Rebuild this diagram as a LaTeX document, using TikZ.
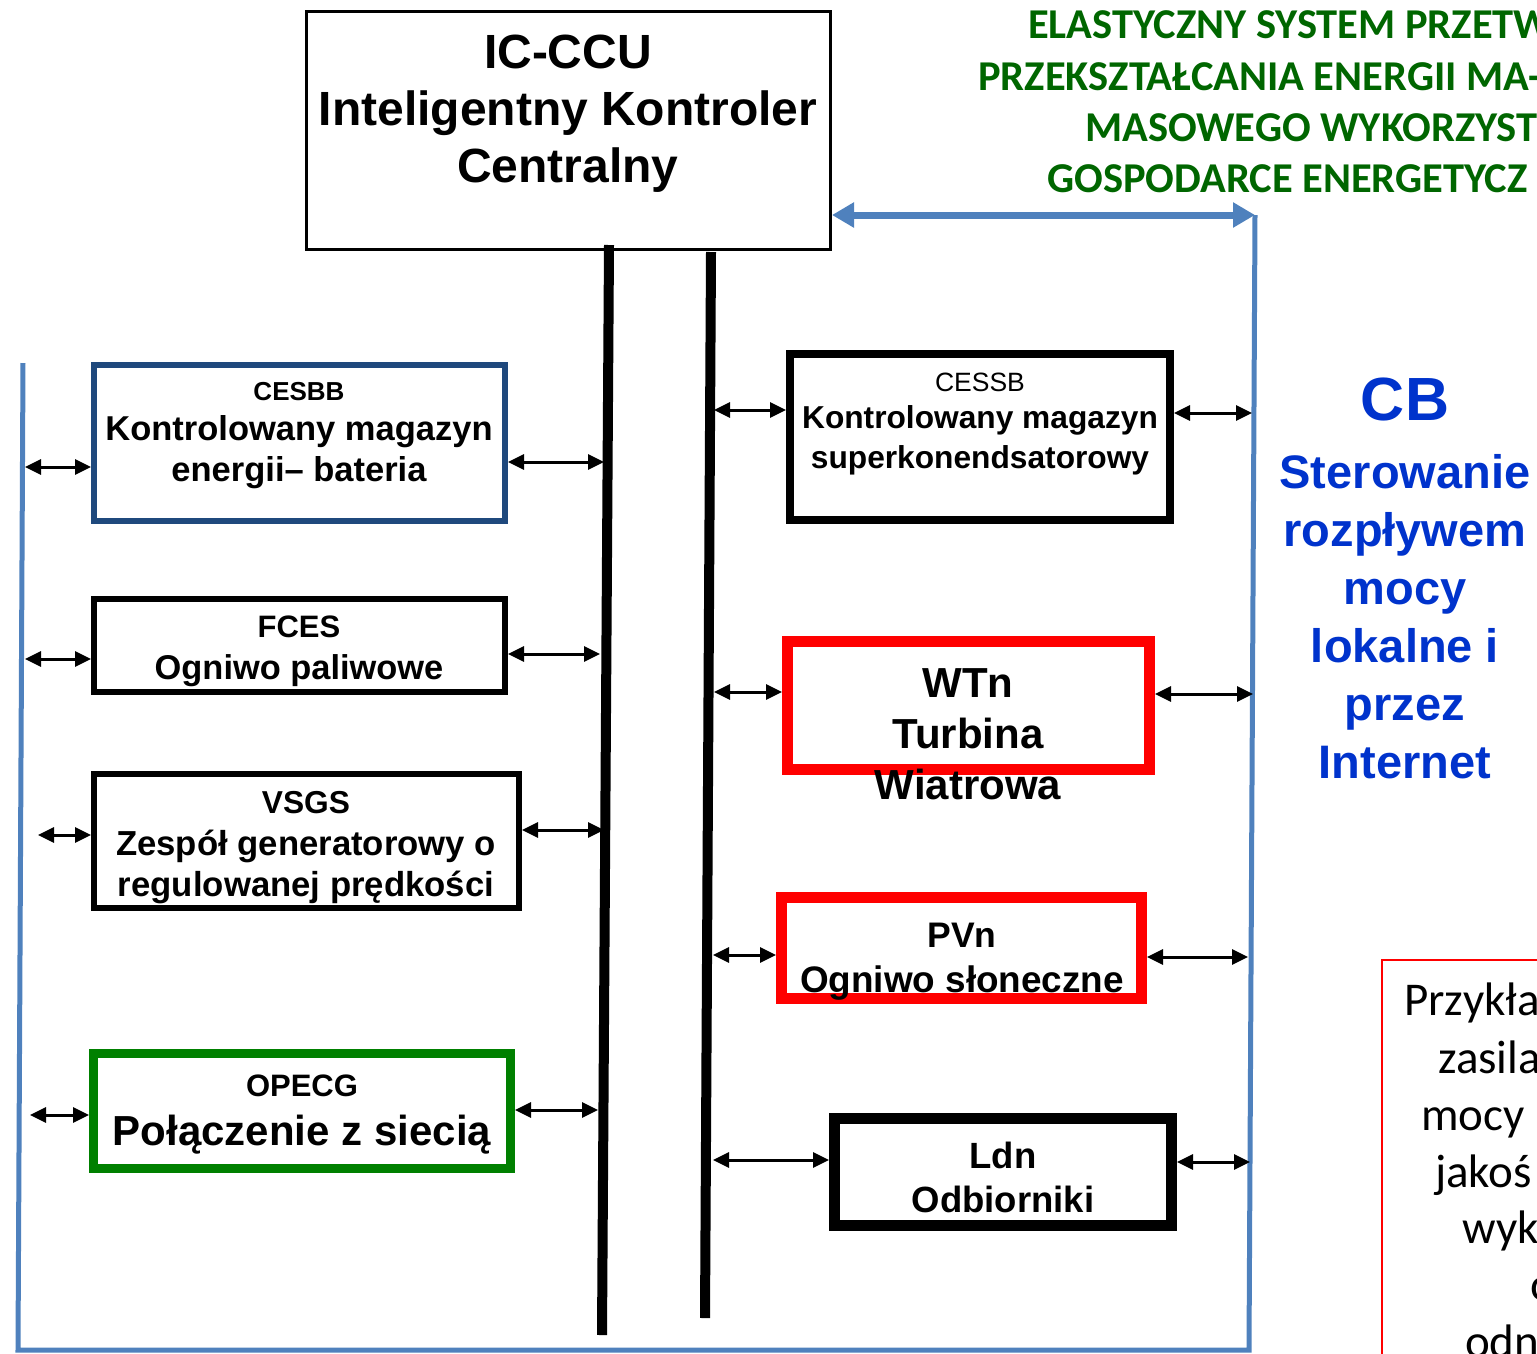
\documentclass[tikz,border=0pt]{standalone}
\usepackage{fontspec}
\setmainfont{Liberation Sans}
\newfontfamily\calibrifont{Carlito}
\usetikzlibrary{arrows.meta,positioning}
\definecolor{frameblue}{RGB}{79,129,189}
\definecolor{batblue}{RGB}{31,73,125}
\definecolor{gridgreen}{RGB}{0,128,0}
\definecolor{titlegreen}{RGB}{0,102,0}
\definecolor{cbblue}{RGB}{0,51,204}
\newcommand\fsz[2]{\fontsize{#1}{#2}\selectfont}
\tikzset{
    blk/.style={draw=#1, fill=white, inner sep=0pt},
    blk/.default=black,
    lbl/.style={align=center, inner sep=0pt},
    dbl/.style={{Triangle[length=16pt,width=15pt]}-{Triangle[length=16pt,width=15pt]}, line width=3pt},
    bus/.style={line width=10pt},
    frm/.style={draw=frameblue, line width=5pt},
    bluearr/.style={{Triangle[length=22pt,width=24pt]}-{Triangle[length=22pt,width=24pt]}, draw=frameblue, line width=7pt},
  }

\begin{document}
\begin{tikzpicture}[x=1pt,y=-1pt]
    \useasboundingbox (0,0) rectangle (1537,1353);

    %% ramka i szyny
    \coordinate (frTL) at (23,363);
    \coordinate (frBL) at (18,1350);
    \coordinate (frBR) at (1249,1350);
    \coordinate (frTR) at (1255,215);
    \coordinate (busLa) at (609,245);
    \coordinate (busLb) at (602,1335);
    \coordinate (busRa) at (711,252);
    \coordinate (busRb) at (705,1318);
    \draw[frm] (frTR) -- (frBR) -- (frBL) -- (frTL);

    %% sterownik centralny
    \node[blk, line width=3pt, minimum width=524pt, minimum height=238pt] (ccu) at (568.5,130.5) {};
    \node[lbl, font=\bfseries\fsz{48}{57}] (ccut) at (568,114) {IC-CCU\\Inteligentny Kontroler\\Centralny};
    \draw[bus] (busLa) -- (busLb);
    \draw[bus] (busRa) -- (busRb);
    \draw[bluearr] ([shift={(0,84.5)}]ccu.east) -- (frTR);

    %% lewa strona
    \node[blk=batblue, line width=6pt, minimum width=411pt, minimum height=156pt] (cesbb) at (299.5,443) {};
    \node[lbl, font=\bfseries\fsz{34.5}{40.5}] (cesbbt) at (299,435.5) {{\fsz{26}{30}CESBB}\\Kontrolowany magazyn\\energii– bateria};

    \node[blk, line width=6pt, minimum width=411pt, minimum height=93pt] (fces) at (299.5,645.5) {};
    \node[lbl, font=\bfseries\fsz{34.4}{42}] (fcest) at (299,651.5) {{\fsz{31}{34}FCES}\\Ogniwo paliwowe};

    \node[blk, line width=6pt, minimum width=425pt, minimum height=134pt] (vsgs) at (306.5,841) {};
    \node[lbl, font=\bfseries\fsz{34.7}{41.5}] (vsgst) at (306,848) {{\fsz{31.7}{35}VSGS}\\Zespół generatorowy o\\regulowanej prędkości};

    \node[blk=gridgreen, line width=9pt, minimum width=417pt, minimum height=115pt] (opecg) at (302,1111) {};
    \node[lbl, font=\bfseries\fsz{42}{49}] (opecgt) at (302,1115) {{\fsz{31}{34}OPECG}\\Połączenie z siecią};

    %% prawa strona
    \node[blk, line width=8pt, minimum width=380pt, minimum height=166pt] (cessb) at (980,437) {};
    \node[lbl, font=\bfseries\fsz{31.7}{40}] (cessbt) at (980,424) {{\mdseries\fsz{26.5}{30}CESSB}\\[-3.5pt]Kontrolowany magazyn\\superkonendsatorowy};

    \node[blk=red, line width=11pt, minimum width=362pt, minimum height=128pt] (wtn) at (968.5,705.5) {};
    \node[lbl, font=\bfseries\fsz{42}{51}] (wtnt) at (968,734) {WTn\\Turbina\\Wiatrowa};

    \node[blk=red, line width=11pt, minimum width=360pt, minimum height=101pt] (pvn) at (961.5,948) {};
    \node[lbl, font=\bfseries\fsz{36.9}{45}] (pvnt) at (962,961.5) {{\fsz{35.5}{40}PVn}\\Ogniwo słoneczne};

    \node[blk, line width=11pt, minimum width=337pt, minimum height=107pt] (ldn) at (1003,1172) {};
    \node[lbl, font=\bfseries\fsz{36.5}{44}] (ldnt) at (1003,1177.5) {Ldn\\Odbiorniki};

    %% strzalki do szyn i ramki
    \foreach \n/\dl/\ll/\dr/\lr in {cesbb/24/66/19/96, fces/13.5/66/8.5/92, vsgs/-6/53/-11/82,
        opecg/4/59/-1/83, cessb/-27/72/-24/78, wtn/-13.5/68/-11.5/98, pvn/7/63/9/101, ldn/-12/116/-10/73}{
      \draw[dbl] ([shift={(0,\dl)}]\n.west) -- ++(-\ll,0);
      \draw[dbl] ([shift={(0,\dr)}]\n.east) -- ++(\lr,0);
    }

    %% CB
    \node[lbl, text=cbblue, font=\bfseries\fsz{47}{58}] (cb) at (1405,578) {{\fsz{61}{62}CB}\\[10pt]Sterowanie\\rozpływem\\mocy\\lokalne i\\przez\\Internet};

    %% tytul
    \begin{scope}[every node/.style={anchor=base west, inner sep=0pt, text=titlegreen, font=\calibrifont\bfseries\fsz{42.5}{51}}]
      \node (tit1) at (1028,38) {ELASTYCZNY SYSTEM PRZETW};
      \node (tit2) at (978,90) {PRZEKSZTAŁCANIA ENERGII MA-};
      \node (tit3) at (1085,141) {MASOWEGO WYKORZYST};
      \node (tit4) at (1047,192) {GOSPODARCE ENERGETYCZ};
    \end{scope}

    %% ramka z przykladem
    \node[draw=red, line width=2pt, anchor=north west, minimum width=200pt, minimum height=420pt] (note) at (1381,959) {};
    \begin{scope}[every node/.style={anchor=base west, inner sep=0pt, font=\calibrifont\fsz{47}{57}}]
      \node (n1) at (1404,1015) {Przykła};
      \node (n2) at (1438,1073) {zasila};
      \node (n3) at (1421,1130) {mocy};
      \node (n4) at (1435,1187) {jakoś};
      \node (n5) at (1462,1243) {wyk};
      \node (n6) at (1530,1300) {o};
      \node (n7) at (1465,1357) {odn};
    \end{scope}
  \end{tikzpicture}
\end{document}
